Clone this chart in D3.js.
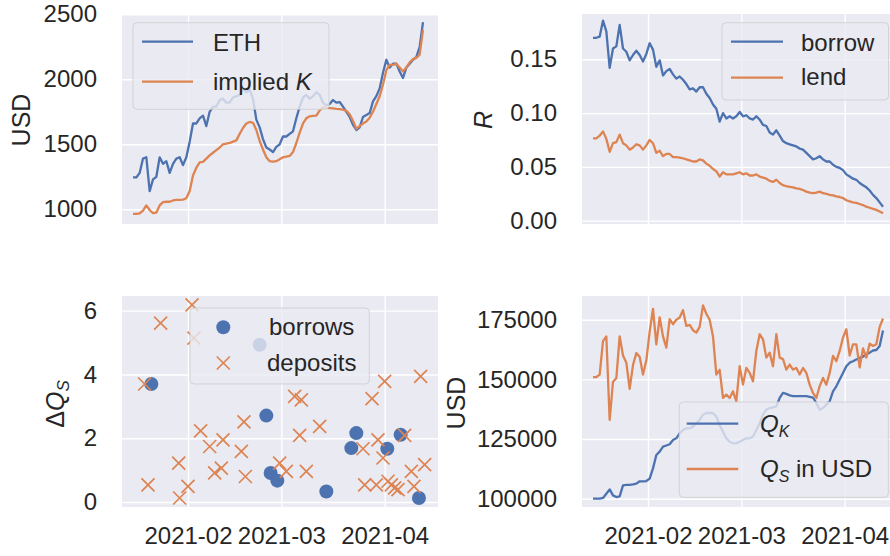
<!DOCTYPE html>
<html><head><meta charset="utf-8">
<script src="https://cdn.jsdelivr.net/npm/d3@7"></script>
<style>
html,body{margin:0;padding:0;background:#fff;}
svg{display:block;font-family:"Liberation Sans",Arial,sans-serif;}
</style></head>
<body><svg id="c" width="890" height="556"></svg>
<script>
// ---------------- DATA ----------------
const seriesStart = "2021-01-15T12:00Z"; // first daily observation
const ethPrice = [1245,1245,1280,1390,1400,1140,1230,1250,1400,1350,1370,1280,1350,1390,1400,1340,1400,1520,1660,1660,1700,1720,1640,1750,1790,1790,1840,1850,1820,1820,1860,1870,1880,1930,1900,1920,1850,1690,1630,1540,1475,1460,1440,1480,1500,1560,1560,1580,1600,1700,1790,1860,1880,1850,1870,1900,1880,1820,1800,1810,1840,1820,1825,1790,1750,1710,1650,1610,1630,1710,1725,1740,1830,1870,1930,2050,2150,2090,2120,2120,2060,2010,2090,2120,2150,2170,2250,2440];
const impliedK = [965,965,968,990,1030,995,970,975,1030,1055,1058,1058,1068,1072,1072,1075,1085,1140,1260,1320,1360,1365,1390,1415,1435,1455,1475,1500,1505,1510,1520,1530,1580,1625,1660,1672,1665,1610,1525,1460,1400,1370,1366,1370,1385,1400,1405,1410,1440,1510,1590,1660,1700,1715,1718,1720,1760,1785,1780,1778,1776,1772,1770,1766,1758,1730,1680,1620,1640,1660,1675,1705,1750,1810,1870,1960,2070,2110,2110,2120,2090,2060,2090,2130,2155,2165,2190,2380];
const borrowRate = [0.170,0.170,0.171,0.186,0.176,0.142,0.160,0.162,0.182,0.160,0.157,0.149,0.154,0.158,0.154,0.148,0.155,0.165,0.159,0.143,0.149,0.135,0.139,0.141,0.136,0.132,0.134,0.131,0.127,0.122,0.123,0.120,0.124,0.124,0.118,0.114,0.108,0.104,0.092,0.100,0.095,0.097,0.095,0.097,0.101,0.097,0.098,0.095,0.094,0.097,0.094,0.089,0.088,0.082,0.080,0.084,0.079,0.074,0.072,0.071,0.070,0.069,0.067,0.066,0.063,0.060,0.057,0.058,0.060,0.057,0.055,0.055,0.052,0.050,0.049,0.047,0.043,0.041,0.039,0.038,0.035,0.033,0.031,0.028,0.024,0.021,0.017,0.013];
const lendRate = [0.0765,0.0765,0.079,0.083,0.076,0.064,0.072,0.073,0.080,0.072,0.070,0.066,0.068,0.071,0.070,0.066,0.070,0.075,0.072,0.063,0.065,0.060,0.062,0.062,0.059,0.059,0.0585,0.058,0.057,0.056,0.055,0.055,0.057,0.056,0.053,0.051,0.048,0.046,0.041,0.045,0.043,0.043,0.043,0.044,0.045,0.043,0.044,0.042,0.042,0.043,0.041,0.040,0.039,0.037,0.036,0.038,0.035,0.033,0.032,0.0315,0.031,0.030,0.0295,0.0285,0.027,0.026,0.0255,0.026,0.027,0.0255,0.025,0.024,0.0235,0.0225,0.022,0.021,0.019,0.018,0.017,0.0165,0.0155,0.0145,0.013,0.012,0.011,0.010,0.0085,0.0068];
const qK = [100000,100000,100000,100300,102100,103900,101400,100700,101000,105600,105800,105800,106000,106300,107300,107300,107400,108400,112700,118300,119700,121800,122300,122800,124600,125300,127400,128800,129500,129500,130200,131600,133000,135200,135900,135900,135900,134400,130900,128100,125300,123900,123200,123200,123900,124600,125300,125300,126000,128800,131600,135200,137300,138000,138300,138700,142200,144300,143900,143300,143000,143000,143000,143000,143000,142700,142400,140100,137300,138000,139400,140800,145000,147100,149900,152700,155500,157000,157600,158300,159000,159500,160500,161200,162100,162300,164000,170500];
const qSUsd = [150900,150900,152000,166000,168000,133000,149000,150500,168000,160000,157000,146000,156000,161000,159500,152000,158000,170000,179500,164700,176000,168000,163300,175200,173100,175000,175900,179000,172400,172800,170600,169600,172000,181000,177500,175000,168000,152000,154000,142200,143600,142200,145000,140800,155500,147800,154800,152700,149200,161900,168900,166800,159100,161200,155500,168900,159100,158500,154100,156200,154100,154800,152000,154800,152700,147800,144300,142200,147100,150600,147800,152700,159800,157600,161900,167500,171000,160000,164700,164700,155000,163000,159100,165000,164000,164700,172000,175500];

const borrowDates = ["2021-01-21T00:00Z","2021-02-22T12:00Z","2021-02-24T12:00Z","2021-02-25T19:00Z","2021-02-27T19:00Z","2021-03-14T12:00Z","2021-03-22T00:00Z","2021-03-23T12:00Z","2021-04-01T19:00Z","2021-04-05T19:00Z","2021-04-11T07:00Z"];
const borrowQty = [3.70,4.93,2.71,0.91,0.67,0.33,1.69,2.16,1.67,2.11,0.125];
const depositDates = ["2021-01-19T00:00Z","2021-01-20T00:00Z","2021-01-23T19:00Z","2021-01-29T05:00Z","2021-01-29T12:00Z","2021-02-01T00:00Z","2021-02-02T05:00Z","2021-02-02T19:00Z","2021-02-04T19:00Z","2021-02-07T12:00Z","2021-02-09T00:00Z","2021-02-11T00:00Z","2021-02-11T12:00Z","2021-02-17T00:00Z","2021-02-17T19:00Z","2021-02-18T05:00Z","2021-02-28T12:00Z","2021-03-02T12:00Z","2021-03-05T00:00Z","2021-03-06T12:00Z","2021-03-07T00:00Z","2021-03-08T12:00Z","2021-03-12T12:00Z","2021-03-25T12:00Z","2021-03-26T00:00Z","2021-03-28T05:00Z","2021-03-29T12:00Z","2021-03-30T00:00Z","2021-03-31T12:00Z","2021-04-01T00:00Z","2021-04-02T00:00Z","2021-04-03T00:00Z","2021-04-04T00:00Z","2021-04-05T00:00Z","2021-04-07T00:00Z","2021-04-09T00:00Z","2021-04-09T19:00Z","2021-04-11T19:00Z","2021-04-13T00:00Z"];
const depositQty = [3.70,0.54,5.61,1.22,0.125,0.49,6.18,5.14,2.23,1.74,0.91,1.06,1.95,1.59,2.51,0.80,1.22,0.96,3.31,2.09,3.20,0.96,2.37,1.67,0.54,3.24,0.54,1.95,1.38,3.78,0.65,0.54,0.44,0.39,2.09,0.96,0.49,3.94,1.17];

const xTickDates = ["2021-02-01T00:00Z","2021-03-01T00:00Z","2021-04-01T00:00Z"];
const xTickLabels = ["2021-02","2021-03","2021-04"];
const ticksTL = [1000,1500,2000,2500];
const ticksTR = [0,0.05,0.10,0.15];
const ticksBL = [0,2,4,6];
const ticksBR = [100000,125000,150000,175000];

// ---------------- STYLE / LAYOUT ----------------
const BLUE = "#4c72b0", ORANGE = "#dd8452", BG = "#eaeaf2", TXT = "#262626";
const FS = 24, LFS = 25, LW = 2.3;
const svg = d3.select("#c");
const xDomain = [new Date("2021-01-12T04:48Z"), new Date("2021-04-17T00:00Z")];
const dates = ethPrice.map((_, i) => d3.utcDay.offset(new Date(seriesStart), i));

function panel(box, yDomain, yTicks, showX) {
  const g = svg.append("g");
  const x = d3.scaleUtc().domain(xDomain).range([box.x0, box.x1]);
  const y = d3.scaleLinear().domain(yDomain).range([box.y1, box.y0]);
  const id = "clip" + Math.round(box.x0) + "_" + Math.round(box.y0);
  svg.append("clipPath").attr("id", id).append("rect")
    .attr("x", box.x0).attr("y", box.y0).attr("width", box.x1 - box.x0).attr("height", box.y1 - box.y0);
  g.append("rect").attr("x", box.x0).attr("y", box.y0).attr("width", box.x1 - box.x0)
    .attr("height", box.y1 - box.y0).attr("fill", BG);
  const xt = xTickDates.map(s => new Date(s));
  const ax = d3.axisBottom(x).tickValues(xt).tickSize(-(box.y1 - box.y0)).tickPadding(20)
    .tickFormat((d, i) => showX ? xTickLabels[i] : "");
  const gx = g.append("g").attr("transform", `translate(0,${box.y1})`).call(ax);
  const ay = d3.axisLeft(y).tickValues(yTicks).tickSize(-(box.x1 - box.x0)).tickPadding(25)
    .tickFormat(yTicks[1] < 1 ? d3.format(".2f") : d3.format("d"));
  const gy = g.append("g").attr("transform", `translate(${box.x0},0)`).call(ay);
  [gx, gy].forEach(a => {
    a.select(".domain").remove();
    a.selectAll("line").attr("stroke", "#fff").attr("stroke-width", 1.4);
    a.selectAll("text").attr("fill", TXT).style("font-size", FS + "px")
      .style("font-family", '"Liberation Sans",Arial,sans-serif');
  });
  const data = g.append("g").attr("clip-path", `url(#${id})`);
  return {x, y, g, data};
}

function drawLine(p, vals, color) {
  p.data.append("path").datum(vals).attr("fill", "none").attr("stroke", color)
    .attr("stroke-width", LW).attr("stroke-linejoin", "round")
    .attr("d", d3.line().x((d, i) => p.x(dates[i])).y(d => p.y(d)));
}

function yLabel(x, y, build) {
  const t = svg.append("text").attr("transform", `translate(${x},${y}) rotate(-90)`)
    .attr("text-anchor", "middle").attr("dy", "0.35em").attr("fill", TXT)
    .style("font-size", LFS + "px");
  build(t);
}

function legendBox(x, y, w, h) {
  return svg.append("rect").attr("x", x).attr("y", y).attr("width", w).attr("height", h)
    .attr("rx", 4).attr("fill", BG).attr("fill-opacity", 0.8)
    .attr("stroke", "#cccccc").attr("stroke-opacity", 0.8).attr("stroke-width", 1);
}
function legendLine(x0, x1, y, color) {
  svg.append("line").attr("x1", x0).attr("x2", x1).attr("y1", y).attr("y2", y)
    .attr("stroke", color).attr("stroke-width", LW);
}
function legendText(x, y, build) {
  const t = svg.append("text").attr("x", x).attr("y", y).attr("dy", "0.35em")
    .attr("fill", TXT).style("font-size", FS + "px");
  build(t);
}

// ---------------- TOP LEFT ----------------
const pTL = panel({x0:122, x1:438, y0:14, y1:224}, [887, 2502], ticksTL, false);
drawLine(pTL, ethPrice, BLUE);
drawLine(pTL, impliedK, ORANGE);
yLabel(21, 120, t => t.text("USD"));
legendBox(133, 22.7, 196, 86.6);
legendLine(142, 193, 41.7, BLUE);
legendLine(142, 193, 81.7, ORANGE);
legendText(213, 43, t => t.text("ETH"));
legendText(213, 82, t => { t.append("tspan").text("implied "); t.append("tspan").style("font-style","italic").text("K"); });

// ---------------- TOP RIGHT ----------------
const pTR = panel({x0:582, x1:898, y0:14, y1:224}, [-0.0031, 0.1921], ticksTR, false);
drawLine(pTR, borrowRate, BLUE);
drawLine(pTR, lendRate, ORANGE);
yLabel(483, 120, t => t.style("font-style","italic").text("R"));
legendBox(722, 22.7, 166.5, 77.3);
legendLine(731, 783, 41.7, BLUE);
legendLine(731, 783, 77.7, ORANGE);
legendText(801, 43, t => t.text("borrow"));
legendText(801, 77, t => t.text("lend"));

// ---------------- BOTTOM LEFT ----------------
const pBL = panel({x0:122, x1:438, y0:296, y1:507}, [-0.157, 6.46], ticksBL, true);
pBL.data.selectAll("circle.b").data(borrowQty).join("circle").attr("class","b")
  .attr("cx", (d, i) => pBL.x(new Date(borrowDates[i]))).attr("cy", d => pBL.y(d))
  .attr("r", 7).attr("fill", BLUE);
const XS = 6.5;
pBL.data.selectAll("path.d").data(depositQty).join("path").attr("class","d")
  .attr("transform", (d, i) => `translate(${pBL.x(new Date(depositDates[i]))},${pBL.y(d)})`)
  .attr("d", `M${-XS},${-XS}L${XS},${XS}M${-XS},${XS}L${XS},${-XS}`)
  .attr("stroke", ORANGE).attr("stroke-width", 1.7).attr("fill", "none");
yLabel(55, 404, t => {
  t.append("tspan").text("Δ");
  t.append("tspan").style("font-style","italic").text("Q");
  t.append("tspan").style("font-style","italic").style("font-size","17px").attr("dy", 5).text("S");
});
legendBox(190, 308, 179.3, 76);
svg.append("circle").attr("cx", 223.3).attr("cy", 327.3).attr("r", 7).attr("fill", BLUE);
svg.append("path").attr("transform", "translate(223.3,363)")
  .attr("d", `M${-XS},${-XS}L${XS},${XS}M${-XS},${XS}L${XS},${-XS}`)
  .attr("stroke", ORANGE).attr("stroke-width", 1.7).attr("fill", "none");
legendText(269, 327, t => t.text("borrows"));
legendText(267, 363, t => t.text("deposits"));

// ---------------- BOTTOM RIGHT ----------------
const pBR = panel({x0:582, x1:898, y0:296, y1:507}, [96522, 184930], ticksBR, true);
drawLine(pBR, qK, BLUE);
drawLine(pBR, qSUsd, ORANGE);
yLabel(456, 403, t => t.text("USD"));
legendBox(679.3, 402, 209, 95.3);
legendLine(686.7, 738.3, 423.7, BLUE);
legendLine(686.7, 738.3, 469, ORANGE);
legendText(760, 424, t => {
  t.append("tspan").style("font-style","italic").text("Q");
  t.append("tspan").style("font-style","italic").style("font-size","16px").attr("dy", 5).text("K");
});
legendText(760, 469, t => {
  t.append("tspan").style("font-style","italic").text("Q");
  t.append("tspan").style("font-style","italic").style("font-size","16px").attr("dy", 5).text("S");
  t.append("tspan").attr("dy", -5).text(" in USD");
});
</script></body></html>
